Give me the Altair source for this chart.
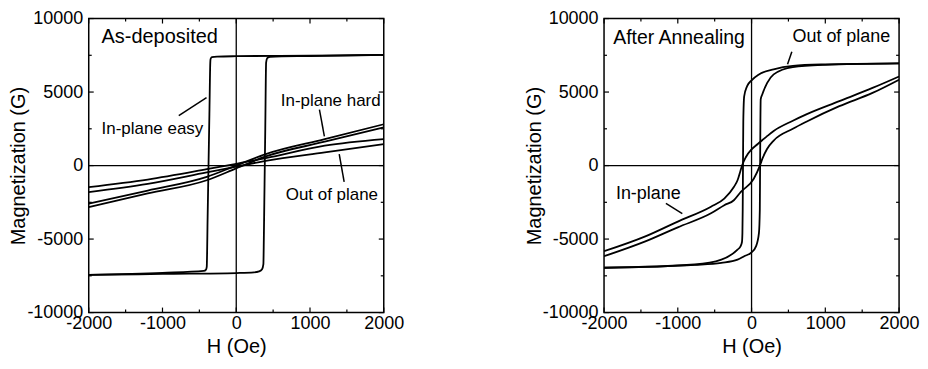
import altair as alt
import pandas as pd

FONT = "Liberation Sans"

# ---------------- Left panel: As-deposited ----------------
easy_desc_H = [2000, 1000, 0, -260, -330, -348, -352, -364, -376, -388, -400, -410, -440, -1000, -2000]
easy_desc_M = [7530, 7480, 7440, 7410, 7370, 7250, 7000, 3500, 0, -3500, -6900, -7080, -7170, -7300, -7440]
easy_asc_H = [-2000, -1000, 0, 240, 310, 350, 368, 374, 380.5, 387, 393.5, 405, 420, 460, 1000, 2000]
easy_asc_M = [-7440, -7370, -7310, -7270, -7200, -7050, -6700, -5000, -2500, 0, 2500, 7000, 7300, 7400, 7450, 7530]

lin_H = [-2000, -1200, -400, 0, 400, 1200, 2000]
hard_up_M = [-2590, -1700, -770, 0, 780, 1800, 2810]
hard_dn_M = [-2830, -1900, -1000, -190, 620, 1620, 2590]
oop_up_M = [-1460, -950, -250, 120, 500, 1350, 1800]
oop_dn_M = [-1800, -1250, -470, -80, 320, 900, 1460]

left_title = ["As-deposited"]
left_title_H = [-1826]
left_title_M = [8720]
left_lab_text = ["In-plane easy", "In-plane hard", "Out of plane"]
left_lab_H = [-1826, 604, 671]
left_lab_M = [2458, 4411, -1987]
left_lead_H = [-779, 1128, 1396]
left_lead_M = [3401, 3805, 774]
left_lead_H2 = [-403, 1195, 1463]
left_lead_M2 = [4613, 1987, -1111]

# ---------------- Right panel: After Annealing ----------------
oopA_desc_H = [2000, 1000, 560, 300, 100, 0, -60, -100, -112, -116, -120, -124, -130, -150, -190, -410, -770, -2000]
oopA_desc_M = [6950, 6880, 6780, 6550, 6200, 5800, 5400, 4700, 3000, 0, -3000, -4600, -5200, -5500, -5720, -6400, -6730, -6950]
oopA_asc_H = [-2000, -770, -410, -190, -100, 0, 60, 100, 112, 116, 120, 124, 145, 212, 300, 560, 1000, 2000]
oopA_asc_M = [-6950, -6760, -6620, -6400, -6170, -5900, -5500, -4600, -3000, 0, 3000, 4500, 4830, 5620, 6200, 6700, 6850, 6950]

ipA_up_H = [2000, 1640, 1190, 750, 560, 300, 200, 80, 0, -80, -125, -150, -190, -240, -370, -550, -1000, -1440, -2000]
ipA_up_M = [6060, 5280, 4380, 3500, 3050, 2350, 1950, 1450, 1100, 550, 50, -350, -1000, -1460, -2250, -2800, -3810, -4820, -5830]
ipA_dn_H = [-2000, -1440, -1000, -550, -370, -240, -145, 30, 113, 150, 210, 300, 560, 750, 1190, 1640, 2000]
ipA_dn_M = [-6170, -5160, -4200, -3250, -2700, -2360, -1790, -900, 0, 500, 1125, 1700, 2500, 3000, 4040, 4940, 5840]

right_title = ["After Annealing"]
right_title_H = [-1876]
right_title_M = [8646]
right_lab_text = ["Out of plane", "In-plane"]
right_lab_H = [555, -1839]
right_lab_M = [8754, -1953]
right_lead_H = [546, -1161]
right_lead_M = [7744, -2579]
right_lead_H2 = [488, -939]
right_lead_M2 = [6896, -3266]

x_major = [-2000, -1000, 0, 1000, 2000]
x_minor = [-1500, -500, 500, 1500]
y_major = [-10000, -5000, 0, 5000, 10000]
y_minor = [-7500, -2500, 2500, 7500]


def curves_df(series):
    rows = []
    for name, hs, ms in series:
        for i, (h, m) in enumerate(zip(hs, ms)):
            rows.append({"series": name, "i": i, "H": h, "M": m})
    return pd.DataFrame(rows)


def panel(curves, title_txt, title_fs, labels, lab_fs, leaders, W, Hh):
    xs = alt.Scale(domain=[-2000, 2000], nice=False, zero=False)
    ys = alt.Scale(domain=[-10000, 10000], nice=False, zero=False)
    common = dict(labelFont=FONT, labelFontSize=18, labelColor="black",
                  titleFont=FONT, titleFontSize=20, titleFontWeight="normal",
                  titleColor="black", ticks=False, domain=False, grid=False,
                  labelFlush=False, labelExpr="'' + datum.value")
    xa = alt.Axis(values=x_major, title="H (Oe)", labelPadding=2, titlePadding=4, **common)
    ya = alt.Axis(values=y_major, title="Magnetization (G)", labelPadding=6, titlePadding=-2, **common)

    def X(f="H"):
        return alt.X(f + ":Q", scale=xs, axis=xa, title="H (Oe)")

    def Y(f="M"):
        return alt.Y(f + ":Q", scale=ys, axis=ya, title="Magnetization (G)")

    lines = alt.Chart(curves).mark_line(color="black", strokeWidth=1.8, clip=True,
                                         interpolate="monotone").encode(
        x=X(), y=Y(), detail="series:N", order="i:Q")
    zx = alt.Chart(pd.DataFrame({"H": [0]})).mark_rule(color="black", strokeWidth=1.3).encode(x=X())
    zy = alt.Chart(pd.DataFrame({"M": [0]})).mark_rule(color="black", strokeWidth=1.3).encode(y=Y())

    layers = [lines, zx, zy]
    for vals, ln in ((x_major, 5), (x_minor, 3)):
        d = pd.DataFrame({"H": vals})
        layers.append(alt.Chart(d).mark_rule(color="black", strokeWidth=1.2).encode(
            x=X(), y=alt.value(Hh), y2=alt.value(Hh - ln)))
        layers.append(alt.Chart(d).mark_rule(color="black", strokeWidth=1.2).encode(
            x=X(), y=alt.value(0), y2=alt.value(ln)))
    for vals, ln in ((y_major, 5), (y_minor, 3)):
        d = pd.DataFrame({"M": vals})
        layers.append(alt.Chart(d).mark_rule(color="black", strokeWidth=1.2).encode(
            y=Y(), x=alt.value(0), x2=alt.value(ln)))
        layers.append(alt.Chart(d).mark_rule(color="black", strokeWidth=1.2).encode(
            y=Y(), x=alt.value(W), x2=alt.value(W - ln)))

    lead = alt.Chart(leaders).mark_rule(color="black", strokeWidth=1.5).encode(
        x=X(), y=Y(), x2="H2:Q", y2="M2:Q")
    layers.append(lead)

    ttl = alt.Chart(title_txt).mark_text(align="left", baseline="middle", font=FONT,
                                          fontSize=title_fs, color="black").encode(
        x=X(), y=Y(), text="text:N")
    labs = alt.Chart(labels).mark_text(align="left", baseline="middle", font=FONT,
                                        fontSize=lab_fs, color="black").encode(
        x=X(), y=Y(), text="text:N")
    layers += [ttl, labs]
    return alt.layer(*layers).properties(width=W, height=Hh)


left_curves = curves_df([
    ("easy_desc", easy_desc_H, easy_desc_M),
    ("easy_asc", easy_asc_H, easy_asc_M),
    ("hard_up", lin_H, hard_up_M),
    ("hard_dn", lin_H, hard_dn_M),
    ("oop_up", lin_H, oop_up_M),
    ("oop_dn", lin_H, oop_dn_M),
])
right_curves = curves_df([
    ("oop_desc", oopA_desc_H, oopA_desc_M),
    ("oop_asc", oopA_asc_H, oopA_asc_M),
    ("ip_up", ipA_up_H, ipA_up_M),
    ("ip_dn", ipA_dn_H, ipA_dn_M),
])

left = panel(
    left_curves,
    pd.DataFrame({"text": left_title, "H": left_title_H, "M": left_title_M}), 20,
    pd.DataFrame({"text": left_lab_text, "H": left_lab_H, "M": left_lab_M}), 17,
    pd.DataFrame({"H": left_lead_H, "M": left_lead_M, "H2": left_lead_H2, "M2": left_lead_M2}),
    296, 295)
right = panel(
    right_curves,
    pd.DataFrame({"text": right_title, "H": right_title_H, "M": right_title_M}), 19.5,
    pd.DataFrame({"text": right_lab_text, "H": right_lab_H, "M": right_lab_M}), 18,
    pd.DataFrame({"H": right_lead_H, "M": right_lead_M, "H2": right_lead_H2, "M2": right_lead_M2}),
    296, 295)

chart = alt.hconcat(left, right, spacing=119).properties(
    padding={"left": 0, "top": 0, "right": 0, "bottom": 0},
    background="white",
).configure_view(stroke="black", strokeWidth=1.5)

chart.save("out.html", embed_options={"renderer": "svg", "actions": False})
